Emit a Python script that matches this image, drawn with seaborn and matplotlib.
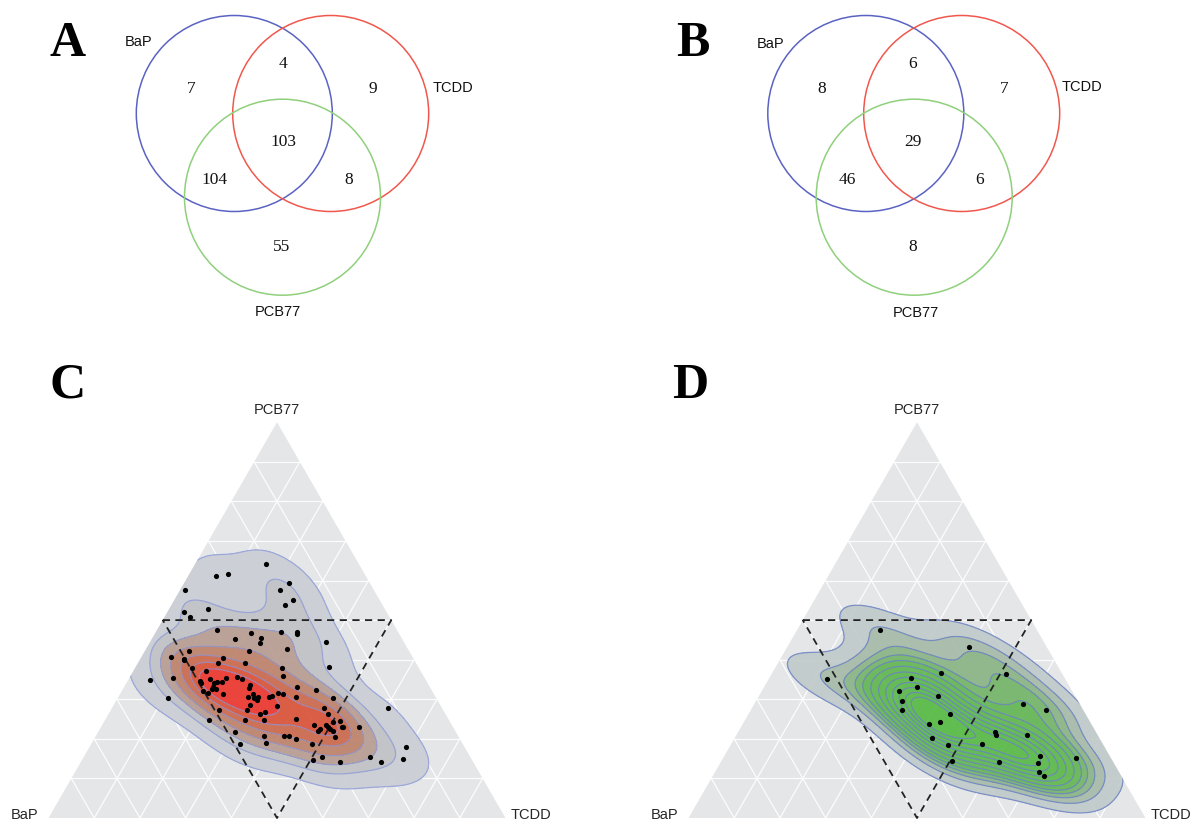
import numpy as np
import matplotlib
matplotlib.use("Agg")
import matplotlib.pyplot as plt
from matplotlib.patches import Circle, Polygon
from matplotlib.colors import LinearSegmentedColormap
import seaborn as sns

sns.set_style("white")
plt.rcParams["font.family"] = ["Liberation Sans", "DejaVu Sans"]

# ---------------- data ----------------
set_names = ["BaP", "TCDD", "PCB77"]
# region order: BaP only, BaP&TCDD, TCDD only, all three, BaP&PCB77, TCDD&PCB77, PCB77 only
venn_A_counts = [7, 4, 9, 103, 104, 8, 55]
venn_B_counts = [8, 6, 7, 29, 46, 6, 8]

# ternary composition data (percent) for panel C
c_bap = [20.3, 32.7, 29.9, 41.3, 44.4, 43.6, 38.6, 17.6, 20.5, 19.0, 21.2, 39.4, 36.5, 32.4, 30.7,
         31.7, 25.6, 22.2, 22.4, 17.1, 26.5, 35.0, 48.2, 52.9, 50.3, 50.4, 41.5, 43.4, 37.5, 49.8,
         30.1, 19.6, 60.4, 55.1, 30.7, 47.0, 47.2, 46.6, 45.9, 44.9, 43.5, 41.0, 40.0, 49.5, 49.7,
         47.3, 47.1, 49.3, 46.1, 39.1, 39.6, 41.0, 39.5, 39.9, 38.8, 39.6, 41.7, 43.0, 40.5, 39.2,
         36.4, 35.7, 34.1, 33.1, 35.9, 40.6, 44.7, 49.0, 52.5, 58.8, 48.3, 48.7, 42.5, 43.0, 29.1,
         25.4, 30.5, 22.6, 25.9, 25.6, 33.3, 24.0, 30.0, 27.6, 27.2, 27.1, 29.3, 30.1, 24.3, 24.0,
         26.7, 27.0, 20.5, 11.9, 38.1, 37.0, 35.9, 33.1, 32.4, 34.9, 29.1, 22.0, 20.2, 12.8, 15.0,
         25.6, 50.1, 47.9]
c_tcdd = [15.4, 6.1, 8.4, 1.1, 3.5, 5.6, 8.6, 22.9, 21.9, 25.8, 24.9, 13.1, 18.3, 20.9, 23.9,
          24.2, 27.4, 30.8, 31.2, 38.5, 30.7, 22.7, 9.5, 6.4, 9.4, 9.8, 18.0, 17.5, 23.4, 12.4,
          32.1, 42.3, 4.8, 9.4, 33.4, 15.9, 17.8, 19.2, 19.7, 20.7, 21.2, 23.3, 24.9, 15.9, 16.3,
          19.5, 20.4, 19.2, 22.6, 27.3, 27.5, 28.4, 29.2, 29.9, 30.6, 30.7, 29.8, 29.7, 33.1, 34.0,
          33.0, 33.4, 34.4, 35.6, 35.8, 34.7, 30.6, 23.6, 22.8, 11.0, 29.9, 32.7, 36.9, 38.1, 37.7,
          42.3, 38.9, 47.2, 46.4, 48.1, 41.6, 51.6, 46.4, 48.9, 49.7, 50.3, 48.1, 47.9, 52.6, 53.1,
          51.3, 52.6, 56.5, 60.4, 41.1, 42.4, 44.2, 48.2, 52.3, 50.5, 56.7, 62.5, 65.6, 69.2, 70.2,
          50.2, 17.8, 19.4]
c_pcb77 = [64.3, 61.2, 61.7, 57.6, 52.1, 50.8, 52.8, 59.5, 57.6, 55.2, 53.9, 47.5, 45.2, 46.7, 45.4,
           44.1, 47.0, 47.0, 46.4, 44.4, 42.8, 42.3, 42.3, 40.7, 40.3, 39.8, 40.5, 39.1, 39.1, 37.8,
           37.8, 38.1, 34.8, 35.5, 35.9, 37.1, 35.0, 34.2, 34.4, 34.4, 35.3, 35.7, 35.1, 34.6, 34.0,
           33.2, 32.5, 31.5, 31.3, 33.6, 32.9, 30.6, 31.3, 30.2, 30.6, 29.7, 28.5, 27.3, 26.4, 26.8,
           30.6, 30.9, 31.5, 31.3, 28.3, 24.7, 24.7, 27.4, 24.7, 30.2, 21.8, 18.6, 20.6, 18.9, 33.2,
           32.3, 30.6, 30.2, 27.7, 26.3, 25.1, 24.4, 23.6, 23.5, 23.1, 22.6, 22.6, 22.0, 23.1, 22.9,
           22.0, 20.4, 23.0, 27.7, 20.8, 20.6, 19.9, 18.7, 15.3, 14.6, 14.2, 15.5, 14.2, 18.0, 14.8,
           24.2, 32.1, 32.7]

# ternary composition data (percent) for panel D
d_bap = [34.3, 52.2, 26.3, 33.7, 33.3, 37.9, 30.1, 38.5, 39.5, 29.6, 32.8, 35.5, 36.5, 34.0, 17.0,
         12.3, 12.5, 8.2, 22.0, 22.3, 15.5, 26.4, 15.2, 16.5, 17.4, 16.9, 7.7, 24.9, 35.0]
d_tcdd = [18.2, 12.7, 37.0, 30.9, 33.5, 30.0, 39.1, 32.0, 33.1, 44.0, 43.0, 40.8, 43.2, 47.6, 39.9,
          51.2, 58.7, 64.5, 56.2, 56.7, 63.5, 55.0, 69.1, 69.6, 70.9, 72.4, 77.1, 61.0, 50.5]
d_pcb77 = [47.5, 35.1, 36.7, 35.4, 33.2, 32.1, 30.8, 29.5, 27.4, 26.4, 24.2, 23.7, 20.3, 18.4, 43.1,
           36.5, 28.8, 27.3, 21.8, 21.0, 21.0, 18.6, 15.7, 13.9, 11.7, 10.7, 15.2, 14.1, 14.5]

# ---------------- layout (pixels) ----------------
FIG_W, FIG_H = 1195, 826
fig = plt.figure(figsize=(FIG_W / 100, FIG_H / 100), dpi=100)
fig.patch.set_facecolor("white")

overlay = fig.add_axes([0, 0, 1, 1], zorder=10)
overlay.set_xlim(0, FIG_W)
overlay.set_ylim(FIG_H, 0)
overlay.axis("off")

serif = ["Liberation Serif", "DejaVu Serif"]
sans = ["Liberation Sans", "DejaVu Sans"]
venn_colors = ["#5a63c2", "#f0584d", "#8fd07c"]

def draw_venn(centers, radius, counts, count_pos, label_pos):
    for (cx, cy), col in zip(centers, venn_colors):
        overlay.add_patch(Circle((cx, cy), radius, fill=False, ec=col, lw=1.1))
    for n, (x, y) in zip(counts, count_pos):
        overlay.text(x, y, str(n), ha="center", va="center", fontsize=12.5,
                     family=serif, color="#111111")
    for name, (x, y) in zip(set_names, label_pos):
        overlay.text(x, y, name, ha="center", va="center", fontsize=10.5,
                     family=sans, color="#111111")

draw_venn([(234.3, 113.5), (330.7, 113.5), (282.5, 197.2)], 98, venn_A_counts,
          [(191, 89), (283, 64), (373, 89), (283, 142), (215, 180), (349, 180), (282, 247)],
          [(139, 42), (453, 88), (278, 312)])
draw_venn([(865.8, 113.5), (961.7, 113.5), (914.2, 197.2)], 98, venn_B_counts,
          [(822, 89), (913, 64), (1004, 89), (913, 142), (847, 180), (980, 180), (913, 247)],
          [(771, 44), (1082, 87), (916, 313)])

for letter, (x, y) in zip("ABCD", [(68, 44), (693, 44), (68, 386), (690, 386)]):
    overlay.text(x, y, letter, ha="center", va="center", fontsize=36,
                 family=serif, fontweight="bold", color="black")

# ---------------- ternary panels ----------------
TRI_W = 457.0
BASE_Y = 818.0
H = np.sqrt(3) / 2

def to_xy(b, t, p):
    b, t, p = np.asarray(b, float), np.asarray(t, float), np.asarray(p, float)
    s = b + t + p
    t, p = t / s, p / s
    return t + p / 2, p * H

def ternary(base_left_x, box, bap, tcdd, pcb, cmap, nlev, line_col, line_alpha, bw, alpha):
    x0, x1 = box
    ax = fig.add_axes([x0 / FIG_W, 0, (x1 - x0) / FIG_W, 456 / FIG_H])
    ax.axis("off")
    vx, vy = to_xy([1, 0, 0], [0, 1, 0], [0, 0, 1])
    tri = Polygon(np.c_[vx, vy], closed=True, fc="#e5e6e8", ec="none", zorder=0)
    ax.add_patch(tri)
    # grid
    for k in range(1, 10):
        f = k / 10
        for a, b_ in [(((1 - f), 0, f), (0, 1 - f, f)),
                      (((1 - f), f, 0), (0, f, 1 - f)),
                      ((f, 1 - f, 0), (f, 0, 1 - f))]:
            gx, gy = to_xy([a[0], b_[0]], [a[1], b_[1]], [a[2], b_[2]])
            ax.plot(gx, gy, color="white", lw=0.9, alpha=0.9, zorder=1)
    px, py = to_xy(bap, tcdd, pcb)
    n0 = len(ax.collections)
    sns.kdeplot(x=px, y=py, ax=ax, fill=True, levels=nlev, thresh=0.05, cmap=cmap,
                alpha=alpha, bw_adjust=bw, zorder=2)
    sns.kdeplot(x=px, y=py, ax=ax, fill=False, levels=nlev, thresh=0.05, colors=line_col,
                linewidths=0.9, alpha=line_alpha, bw_adjust=bw, zorder=3)
    for c in ax.collections[n0:]:
        c.set_clip_path(tri)
    # medial dashed triangle
    mx, my = to_xy([0.5, 0, 0.5, 0.5], [0, 0.5, 0.5, 0], [0.5, 0.5, 0, 0.5])
    ax.plot(mx, my, color="#222222", lw=1.3, ls=(0, (4, 3)), zorder=5)
    sns.scatterplot(x=px, y=py, ax=ax, color="black", s=14, linewidth=0, zorder=6, legend=False)
    ax.set_xlim((x0 - base_left_x) / TRI_W, (x1 - base_left_x) / TRI_W)
    ax.set_ylim((BASE_Y - FIG_H) / TRI_W, (BASE_Y - 370) / TRI_W)
    # vertex labels in pixel space
    apex_x = base_left_x + TRI_W / 2
    overlay.text(apex_x, 410, "PCB77", ha="center", va="center", fontsize=10.5, family=sans)
    overlay.text(base_left_x - 24, 815, "BaP", ha="center", va="center", fontsize=10.5, family=sans)
    overlay.text(min(base_left_x + TRI_W + 26, FIG_W - 24), 815, "TCDD", ha="center",
                 va="center", fontsize=10.5, family=sans)
    return ax

cmap_C = LinearSegmentedColormap.from_list(
    "c", [(0.0, "#cfd3da"), (0.17, "#c0c1c6"), (0.33, "#b6907f"), (0.5, "#c0775c"),
          (0.67, "#d45a3d"), (0.83, "#e5442c"), (1.0, "#f5202e")])
cmap_D = LinearSegmentedColormap.from_list(
    "d", [(0.0, "#cdd2d8"), (0.09, "#b6c3be"), (0.18, "#97b395"), (0.27, "#76b36b"),
          (0.36, "#63b653"), (0.6, "#5bb84a"), (1.0, "#56ba43")])

ternary(48.5, (0, 597), c_bap, c_tcdd, c_pcb77, cmap_C, 8, "#8c9bdc", 0.75, 1.0, 0.92)
ternary(688.5, (598, 1195), d_bap, d_tcdd, d_pcb77, cmap_D, 13, "#6f85c6", 0.85, 1.0, 0.92)

fig.savefig("out.png", dpi=100, facecolor="white")
